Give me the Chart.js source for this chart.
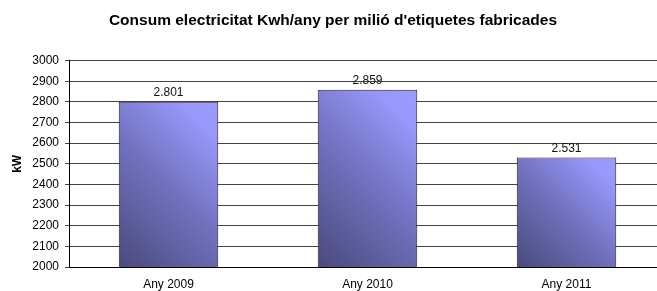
<!DOCTYPE html>
<html>
<head>
<meta charset="utf-8">
<script src="https://cdn.jsdelivr.net/npm/chart.js@4.4.0/dist/chart.umd.min.js"></script>
<style>
  html, body { margin: 0; padding: 0; background: #fff; overflow: hidden; }
  .wrap { width: 668px; height: 291px; }
</style>
</head>
<body>
<div class="wrap"><canvas id="myChart" width="668" height="291"></canvas></div>
<script>
// DATA
const years = ["Any 2009", "Any 2010", "Any 2011"];
const consum = [2801, 2859, 2531];
const yMin = 2000;
const yMax = 3000;
const yStep = 100;
const chartTitle = "Consum electricitat Kwh/any per milió d'etiquetes fabricades";
const yTitle = "kW";

const FONT = "Arial, 'Liberation Sans', sans-serif";

// 2801 -> "2.801"
function formatValue(v) {
  const th = Math.floor(v / 1000);
  const rest = String(v % 1000).padStart(3, "0");
  return th > 0 ? th + "." + rest : String(v);
}

// 45deg gradient per bar (dark bottom-left, light top-right)
function barFill(context) {
  const chart = context.chart;
  const xs = chart.scales.x;
  const ys = chart.scales.y;
  if (!xs || !ys || context.dataIndex === undefined) return "#7b7bd0";
  const cx = xs.getPixelForValue(context.dataIndex);
  const half = (xs.width / years.length) * 0.25;
  const top = ys.getPixelForValue(consum[context.dataIndex]);
  const bottom = ys.getPixelForValue(yMin);
  if (![cx, half, top, bottom].every(Number.isFinite) || half <= 0) return "#7b7bd0";
  const d = (2 * half + (bottom - top)) / 2;
  const left = cx - half;
  const g = chart.ctx.createLinearGradient(left, bottom, left + d, bottom - d);
  g.addColorStop(0, "#4a4a7c");
  g.addColorStop(0.5, "#7272c0");
  g.addColorStop(0.85, "#9797fc");
  g.addColorStop(1, "#9a9aff");
  return g;
}

// value labels above bars
const valueLabels = {
  id: "valueLabels",
  afterDatasetsDraw(chart) {
    const ctx = chart.ctx;
    const meta = chart.getDatasetMeta(0);
    ctx.save();
    ctx.font = "12px " + FONT;
    ctx.fillStyle = "#111";
    ctx.textAlign = "center";
    ctx.textBaseline = "middle";
    meta.data.forEach((bar, i) => {
      ctx.fillText(formatValue(consum[i]), bar.x, bar.y - 9);
    });
    ctx.restore();
  },
};

const ctx = document.getElementById("myChart").getContext("2d");
const chart = new Chart(ctx, {
  type: "bar",
  data: {
    labels: years,
    datasets: [
      {
        data: consum,
        backgroundColor: barFill,
        borderColor: "#222",
        borderWidth: 1,
        categoryPercentage: 1,
        barPercentage: 0.5,
      },
    ],
  },
  options: {
    responsive: false,
    animation: false,
    devicePixelRatio: 1,
    layout: { padding: { left: 0, right: 2, top: 0, bottom: 0 } },
    plugins: {
      legend: { display: false },
      tooltip: { enabled: false },
      title: {
        display: true,
        text: chartTitle,
        color: "#000",
        font: { family: FONT, size: 15.5, weight: "bold" },
        padding: { top: 11, bottom: 31 },
      },
    },
    scales: {
      x: {
        grid: { display: false, drawTicks: false },
        border: { display: true, color: "#000", width: 1 },
        ticks: {
          color: "#000",
          padding: 10,
          font: { family: FONT, size: 12 },
        },
        afterFit(scale) {
          scale.height = 24;
        },
      },
      y: {
        min: yMin,
        max: yMax,
        ticks: {
          stepSize: yStep,
          color: "#000",
          padding: 6,
          font: { family: FONT, size: 12 },
          callback: (v) => String(v),
        },
        grid: { color: "#444", lineWidth: 1, tickLength: 4 },
        border: { display: true, color: "#000", width: 1 },
        title: {
          display: true,
          text: yTitle,
          color: "#000",
          font: { family: FONT, size: 12, weight: "bold" },
          padding: { top: 10, bottom: 0 },
        },
        afterFit(scale) {
          scale.width = 69;
        },
      },
    },
  },
  plugins: [valueLabels],
});
chart.update();
</script>
</body>
</html>
